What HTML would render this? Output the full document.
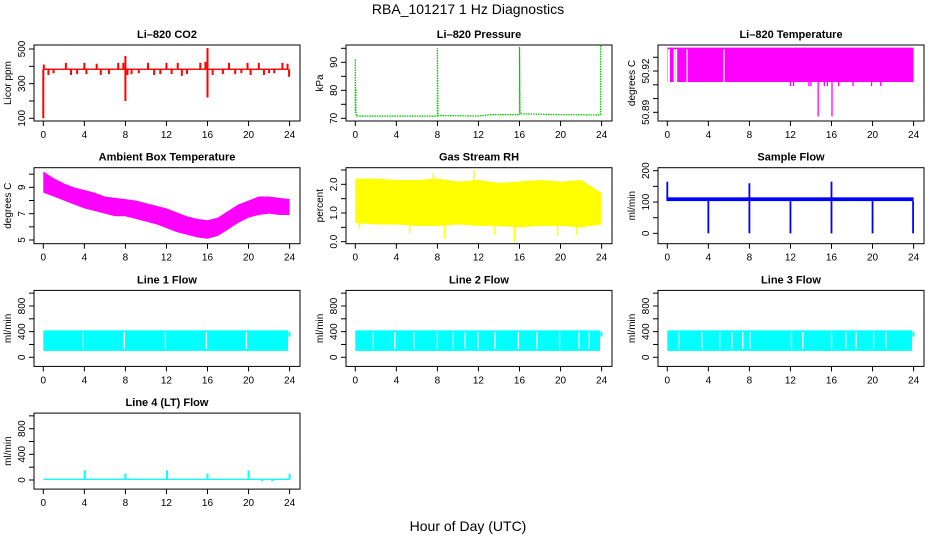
<!DOCTYPE html>
<html><head><meta charset="utf-8">
<style>
html,body{margin:0;padding:0;background:#fff;}
svg{display:block;font-family:"Liberation Sans",sans-serif;}
</style></head>
<body>
<svg id="chart" width="936" height="540" viewBox="0 0 936 540" xmlns="http://www.w3.org/2000/svg">
<text x="468" y="14" font-size="14" text-anchor="middle">RBA_101217  1 Hz Diagnostics</text>
<text x="468" y="531" font-size="14" text-anchor="middle">Hour of Day (UTC)</text>
</svg>
<script>
// ---- data arrays (hours / values) ----
const xTicks = [0,4,8,12,16,20,24];

const co2Base = 383;
const co2SpikeH = [0,0.05,2.2,4.0,5.2,7.3,7.8,8.0,8.0,10.2,12.0,13.1,15.3,15.8,16.0,16.0,18.1,19.9,21.0,23.3,23.8,0.5,1.0,2.7,3.3,4.2,5.6,6.4,8.2,8.6,9.3,10.8,11.4,12.5,13.5,14.0,16.5,17.5,18.7,19.3,20.2,21.5,22.0,22.5,23.95];
const co2SpikeV = [100,410,420,420,415,420,420,460,200,420,420,420,420,425,505,220,420,420,420,420,415,350,360,350,355,355,350,355,350,355,360,350,355,355,345,355,350,355,355,360,350,350,360,360,340];

const presH = [0,0,0.05,0.05,0.1,8,8,8.05,12,13.2,16,16,16.05,20,23.9,23.9,24];
const presV = [91,72,81,73,70.8,70.8,95,71,70.8,71.3,71.3,95.5,71.6,71.3,71.2,96,96];

const ltTop = 50.937, ltBot = 50.912;
const ltGapH = [0.1,0.2,0.68,0.75,0.9,1.93,5.52];
const ltDipH = [12.0,12.3,13.8,14.0,14.7,15.3,15.6,16.05,16.7,18.1,19.9,20.8];
const ltDipV = [50.909,50.909,50.909,50.909,50.887,50.909,50.909,50.887,50.909,50.909,50.909,50.909];

const ambH  = [0,1,2,3,4,5,6,7,8,9,10,11,12,13,14,15,16,17,18,19,20,21,22,23,24];
const ambLo = [8.6,8.3,8.0,7.7,7.4,7.2,7.0,6.8,6.8,6.6,6.4,6.2,5.9,5.6,5.4,5.2,5.1,5.3,5.8,6.3,6.7,6.9,7.0,6.9,6.9];
const ambHi = [10.2,9.7,9.3,9.0,8.8,8.6,8.3,8.2,8.1,8.0,7.8,7.6,7.4,7.1,6.8,6.6,6.5,6.7,7.2,7.7,8.0,8.3,8.3,8.2,8.1];

const rhH  = [0,2,4,6,8,10,12,14,16,18,20,22,24];
const rhLo = [0.65,0.6,0.6,0.55,0.55,0.6,0.55,0.55,0.5,0.55,0.55,0.5,0.6];
const rhHi = [2.2,2.2,2.15,2.15,2.2,2.1,2.15,2.05,2.1,2.15,2.1,2.15,1.7];
const rhSpikeH = [7.6,11.55,8.7,15.5,0.4,5.3,13.6,19.7,21.6];
const rhSpikeV = [2.4,2.5,0.1,0.0,0.45,0.3,0.25,0.2,0.25];

const sfLo = 103, sfHi = 115;
const sfSpikeH = [0,4,8,8,12,16,16,20,23.95];
const sfSpikeV = [165,0,160,0,0,165,0,0,0];

const flowLo = 100, flowHi = 420;
const line1GapH = [3.9,7.9,11.9,15.9,19.8];
const line2GapH = [1.75,3.85,5.7,8.0,9.55,10.7,11.95,13.6,15.9,17.7,19.9,21.8,22.8];
const line3GapH = [1.16,3.37,5.1,6.3,7.35,8.05,12.1,13.2,16.0,17.4,18.4,20.1,21.3];

const l4Lo = 0, l4Hi = 20;
const l4SpikeH = [4.05,8.0,12.05,16.0,20.0,24.0,21.3,22.3];
const l4SpikeV = [150,100,150,100,150,100,-20,-20];

// ---- layout ----
const svg = document.getElementById('chart');
const NS = 'http://www.w3.org/2000/svg';
function mk(tag, attrs, parent){
  const e = document.createElementNS(NS, tag);
  for (const k in attrs) e.setAttribute(k, attrs[k]);
  (parent||svg).appendChild(e);
  return e;
}
function panel(col,row,key,title,ylab,lo,hi,ticks,labels){
  const L = 34 + 312*col, T = 45 + 122.7*row, W = 266, H = 76;
  const g = mk('g',{});
  
  
  const xs = h => L + 9.3 + h*(W/1.08/24);
  const ys = v => T + H - (v-lo)/(hi-lo)*H;
  const t = mk('text',{x:L+W/2,y:T-7,'font-size':11,'font-weight':'bold','text-anchor':'middle'},g);
  t.textContent = title;
  
  
  const yl = mk('text',{x:0,y:0,'font-size':10,'text-anchor':'middle',transform:`translate(${L-23},${T+H/2}) rotate(-90)`},g);
  yl.textContent = ylab;
  
  
  const plot = mk('g',{},g);
  
  
  const box = mk('rect',{x:L,y:T,width:W,height:H,fill:'none',stroke:'#000','stroke-width':1},g);
  
  
  xTicks.forEach(h=>{
    mk('line',{x1:xs(h),x2:xs(h),y1:T+H,y2:T+H+5,stroke:'#000'},g);
    const tx = mk('text',{x:xs(h),y:T+H+17,'font-size':10,'text-anchor':'middle'},g);
    tx.textContent = h;
    
    
  });
  ticks.forEach(v=>{
    mk('line',{x1:L-5,x2:L,y1:ys(v),y2:ys(v),stroke:'#000'},g);
  });
  labels.forEach(v=>{
    const tx = mk('text',{x:0,y:0,'font-size':10,'text-anchor':'middle',transform:`translate(${L-9},${ys(v)}) rotate(-90)`},g);
    tx.textContent = v;
    
    
  });
  return {xs,ys,plot};
}
function vline(p,h,v1,v2,color,w){
  const e = mk('line',{x1:p.xs(h),x2:p.xs(h),y1:p.ys(v1),y2:p.ys(v2),stroke:color,'stroke-width':w||1.5},p.plot);
  
  
}
function bandRect(p,h1,h2,lo,hi,color){
  const e = mk('rect',{x:p.xs(h1),y:p.ys(hi),width:p.xs(h2)-p.xs(h1),height:p.ys(lo)-p.ys(hi),fill:color},p.plot);
  
  
}
function bandPoly(p,H,LO,HI,color){
  let pts = H.map((h,i)=>p.xs(h)+','+p.ys(HI[i]));
  for (let i=H.length-1;i>=0;i--) pts.push(p.xs(H[i])+','+p.ys(LO[i]));
  const e = mk('polygon',{points:pts.join(' '),fill:color},p.plot);
  
  
}

// CO2
let p = panel(0,0,'co2','Li\u2013820 CO2','Licor ppm',84.4,523,[100,200,300,400,500],[100,300,500]);
bandRect(p,0.05,23.9,co2Base-4,co2Base+4,'#f00');
co2SpikeH.forEach((h,i)=>vline(p,h,co2Base,co2SpikeV[i],'#f00',2));

// Pressure
p = panel(1,0,'pressure','Li\u2013820 Pressure','kPa',69.04,96.18,[70,75,80,85,90,95],[70,80,90]);
{ const e = mk('polyline',{points:presH.map((h,i)=>p.xs(h)+','+p.ys(presV[i])).join(' '),fill:'none',stroke:'#0c0','stroke-width':1.3,'stroke-dasharray':'1.5,1'},p.plot);
  
   }

// Li-820 temperature
p = panel(2,0,'li820-temp','Li\u2013820 Temperature','degrees C',50.8837,50.9389,[50.89,50.90,50.91,50.92,50.93],['50.89','50.92']);
bandRect(p,0,24,ltBot,ltTop,'#f0f');
ltGapH.forEach(h=>vline(p,h,ltBot,ltTop-0.0012,'#fff',1.3));
ltDipH.forEach((h,i)=>vline(p,h,ltBot,ltDipV[i],'#f0f',1.3));

// Ambient box temperature
p = panel(0,1,'ambient-temp','Ambient Box Temperature','degrees C',4.72,10.49,[5,6,7,8,9,10],[5,7,9]);
bandPoly(p,ambH,ambLo,ambHi,'#f0f');

// Gas stream RH
p = panel(1,1,'gas-rh','Gas Stream RH','percent',-0.07,2.58,[0,0.5,1,1.5,2,2.5],['0.0','1.0','2.0']);
bandPoly(p,rhH,rhLo,rhHi,'#ff0');
rhSpikeH.forEach((h,i)=>vline(p,h,1.3,rhSpikeV[i],'#ff0',1.5));

// Sample flow
p = panel(2,1,'sample-flow','Sample Flow','ml/min',-33,209.6,[0,50,100,150,200],[0,100,200]);
bandRect(p,0,24,sfLo,sfHi,'#00f');
sfSpikeH.forEach((h,i)=>vline(p,h,sfLo,sfSpikeV[i],'#00f',1.8));

// Line flows
const flowTicks = [0,200,400,600,800,1000];
[[0,2,'line1','Line 1 Flow',line1GapH],[1,2,'line2','Line 2 Flow',line2GapH],[2,2,'line3','Line 3 Flow',line3GapH]].forEach(c=>{
  const q = panel(c[0],c[1],c[2],c[3],'ml/min',-142,1043,flowTicks,[0,400,800]);
  bandRect(q,0,23.85,flowLo,flowHi,'#0ff');
  vline(q,23.98,320,400,'#0ff',2);
  c[4].forEach(h=>vline(q,h,flowLo+30,flowHi-25,'#fff',1.3));
});

// Line 4
p = panel(0,3,'line4','Line 4 (LT) Flow','ml/min',-142,1043,flowTicks,[0,400,800]);
bandRect(p,0,24,l4Lo,l4Hi,'#0ff');
l4SpikeH.forEach((h,i)=>vline(p,h,10,l4SpikeV[i],'#0ff',2));
</script>
</body></html>
